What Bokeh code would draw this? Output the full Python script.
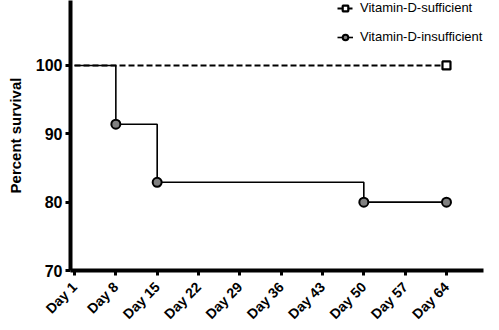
import math
from bokeh.plotting import figure
from bokeh.models import FixedTicker, Legend, LegendItem, Range1d, Label
from bokeh.embed import file_html
from bokeh.resources import INLINE

days = [1, 8, 15, 22, 29, 36, 43, 50, 57, 64]
day_labels = ["Day 1", "Day 8", "Day 15", "Day 22", "Day 29", "Day 36", "Day 43", "Day 50", "Day 57", "Day 64"]
y_ticks = [70, 80, 90, 100, 110]

suff_days = [1, 64]
suff_surv = [100, 100]
suff_marker_days = [64]
suff_marker_surv = [100]

insuff_days = [1, 8, 15, 50, 64]
insuff_surv = [100, 91.4, 82.9, 80, 80]
insuff_marker_days = [8, 15, 50, 64]
insuff_marker_surv = [91.4, 82.9, 80, 80]

FONT = "Liberation Sans"

p = figure(width=499, height=330, output_backend="svg", toolbar_location=None,
           x_range=Range1d(0.32, 70.27), y_range=Range1d(70, 109.5),
           min_border_left=70, min_border_right=16, min_border_top=0, min_border_bottom=60)
p.outline_line_color = None
p.grid.grid_line_color = None
p.background_fill_color = "white"
p.border_fill_color = "white"

# series
r_suff_line = p.line(suff_days, suff_surv, line_color="black", line_width=2, line_dash="6 3")
r_ins_line = p.step(insuff_days, insuff_surv, mode="after", line_color="black", line_width=1.6)
r_suff_mk = p.scatter(suff_marker_days, suff_marker_surv, marker="square", size=8,
                      fill_color="white", line_color="black", line_width=2.2)
r_ins_mk = p.scatter(insuff_marker_days, insuff_marker_surv, marker="circle", size=9,
                     fill_color="#808080", line_color="black", line_width=2)

# axes
p.xaxis.ticker = FixedTicker(ticks=days)
p.xaxis.major_label_overrides = {d: l for d, l in zip(days, day_labels)}
p.xaxis.major_label_orientation = math.pi / 4
p.yaxis.ticker = FixedTicker(ticks=y_ticks)
p.yaxis.axis_label = "Percent survival"
for ax in (p.xaxis, p.yaxis):
    ax.axis_line_width = 4
    ax.axis_line_color = "black"
    ax.major_tick_line_width = 3
    ax.major_tick_line_color = "black"
    ax.major_tick_in = 0
    ax.major_tick_out = 5
    ax.minor_tick_line_color = None
    ax.major_label_text_font = FONT
    ax.major_label_text_font_style = "bold"
    ax.major_label_text_color = "black"
p.xaxis.major_label_text_font_size = "14px"
p.yaxis.major_label_text_font_size = "16px"
p.yaxis.major_label_standoff = 3
p.xaxis.major_label_standoff = 9
p.yaxis.axis_label_text_font = FONT
p.yaxis.axis_label_text_font_style = "bold"
p.yaxis.axis_label_text_font_size = "15px"
p.yaxis.axis_label_text_color = "black"
p.yaxis.axis_label_standoff = 9

# partially visible top tick label
p.add_layout(Label(x=0.32, y=110, text="110", text_align="right", text_baseline="middle",
                   x_offset=-9, text_font=FONT, text_font_style="bold", text_font_size="16px",
                   text_color="black"))

legend = Legend(items=[
    LegendItem(label="Vitamin-D-sufficient", renderers=[r_suff_line, r_suff_mk]),
    LegendItem(label="Vitamin-D-insufficient", renderers=[r_ins_line, r_ins_mk]),
], location=(267, 226))
legend.border_line_color = None
legend.background_fill_alpha = 0
legend.padding = 0
legend.margin = 0
legend.spacing = 14
legend.glyph_width = 16
legend.glyph_height = 14
legend.label_height = 14
legend.label_standoff = 7
legend.label_text_font = FONT
legend.label_text_font_size = "13px"
legend.label_text_color = "black"
legend.label_text_baseline = "middle"
p.add_layout(legend)

open("out.html", "w").write(file_html(p, INLINE))
